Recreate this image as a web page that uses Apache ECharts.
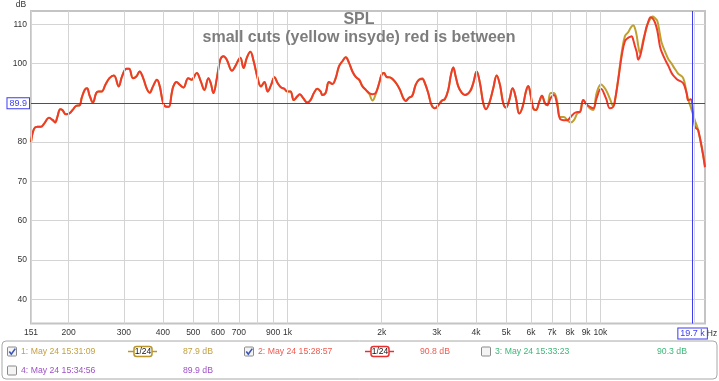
<!DOCTYPE html>
<html><head><meta charset="utf-8">
<script src="https://cdn.jsdelivr.net/npm/echarts@6/dist/echarts.min.js"></script>
<style>html,body{margin:0;padding:0;background:#fff}#c{width:719px;height:381px}</style>
</head><body><div id="c"></div>
<script>
// ---- data ----
const freqs = [
  151.6,155,159,163,167,173,178,181,184,188,191,196,201,206,211,217,220,225,229,
  233,239,245,249,255,262,270,279,289,296,306,312,321,329,337,346,355,363,372,383,
  391,401,411,418,427,432,442,453,465,482,494,513,528,543,559,569,580,595,610,625,
  640,665,681,707,724,742,761,780,803,823,844,865,887,909,931,955,978,998,1022,1048,
  1074,1095,1123,1157,1185,1215,1246,1276,1293,1324,1357,1392,1426,1461,1498,1535,1573,1613,1653,1694,
  1737,1780,1824,1870,1916,1963,2000,2034,2075,2126,2178,2234,2289,2345,2387,2445,2505,2568,2631,2696,
  2749,2817,2888,2959,3032,3108,3185,3264,3330,3387,3448,3514,3603,3692,3829,3923,4022,4122,4224,4307,
  4413,4545,4661,4774,4892,4989,5113,5241,5370,5502,5642,5780,5879,5984,6099,6222,6377,6503,6649,6761,
  6932,7102,7277,7423,7645,7832,8033,8230,8432,8600,8812,9034,9256,9483,9724,10036,10413,10725,10989,11129,
  11400,11689,11975,12271,12423,12581,12731,12890,13052,13209,13371,13541,13702,13976,14112,14467,14682,14931,15188,15491,
  15689,16190,16468,16883,17082,17512,17722,18385,18849,19076,19414,20039,20533,21573
];
const splRed = [
  80.0,83.4,83.9,83.9,84.7,86.2,85.6,85.0,86.4,88.4,88.2,87.1,87.3,88.2,89.2,89.4,91.2,93.3,93.7,
  92.0,90.1,92.5,92.9,92.9,94.6,96.3,97.0,94.2,96.7,98.7,98.7,96.3,96.7,98.0,96.3,93.7,92.6,94.2,95.9,
  94.2,89.9,89.0,89.0,92.5,94.2,95.3,94.6,93.9,96.3,95.9,97.6,95.6,93.3,96.3,95.0,92.5,96.3,101.0,101.9,
  101.0,98.2,99.3,101.5,98.9,101.5,103.0,100.6,96.3,94.2,95.3,92.9,94.6,96.5,95.0,93.9,93.6,92.9,92.9,90.7,
  91.6,92.2,91.2,90.1,90.7,92.5,93.6,92.9,92.0,92.5,95.3,94.8,96.3,99.3,100.6,101.6,100.2,98.0,96.6,95.9,
  94.2,93.3,92.5,92.2,92.6,95.0,97.2,97.6,96.6,96.5,95.9,94.8,93.3,91.2,90.5,91.3,91.8,94.6,95.9,96.1,
  95.0,92.5,89.4,88.6,89.4,90.5,91.0,93.3,97.2,99.0,96.7,94.2,92.6,92.0,92.9,95.0,98.0,95.0,89.9,88.4,
  89.9,93.7,97.0,94.6,89.9,88.8,90.7,93.7,91.2,87.3,89.0,92.9,94.3,92.0,88.6,88.2,90.3,91.8,89.9,89.4,
  91.2,92.0,89.4,86.0,85.6,85.6,86.4,87.3,87.7,87.7,90.7,89.6,89.0,88.6,91.2,93.6,91.2,88.6,89.0,90.7,
  95.9,101.9,105.7,106.6,106.8,107.0,106.0,104.4,103.0,101.0,101.8,103.6,105.5,108.8,109.8,111.8,111.5,110.5,108.5,104.4,
  103.0,100.6,99.5,97.6,97.0,96.1,95.8,95.0,92.5,90.7,90.9,83.9,83.0,73.6
];
const splYellow = [
  80.0,83.4,83.9,83.9,84.7,86.2,85.6,85.0,86.4,88.4,88.2,87.1,87.3,88.2,89.2,89.4,91.2,93.3,93.7,
  92.0,90.1,92.5,92.9,92.9,94.6,96.3,97.0,94.2,96.7,98.7,98.7,96.3,96.7,98.0,96.3,93.7,92.6,94.2,95.9,
  94.2,89.9,89.0,89.0,92.5,94.2,95.3,94.6,93.9,96.3,95.9,97.6,95.6,93.3,96.3,95.0,92.5,96.3,101.0,101.9,
  101.0,98.2,99.3,101.5,98.9,101.5,103.0,100.6,96.3,94.2,95.3,92.9,94.6,96.5,95.0,93.9,93.6,92.9,92.9,90.7,
  91.6,92.2,91.2,90.1,90.7,92.5,93.6,92.9,92.0,92.5,95.3,94.8,96.3,99.3,100.6,101.6,100.2,98.0,96.6,95.9,
  94.2,93.3,92.3,90.6,92.3,95.0,97.2,97.6,96.6,96.5,95.9,94.8,93.3,91.2,90.5,91.3,91.8,94.6,95.9,96.3,
  95.0,92.5,89.4,88.6,89.4,90.5,91.0,93.3,97.2,99.0,96.7,94.2,92.6,92.0,92.9,95.0,98.0,95.0,89.9,88.4,
  89.9,93.7,97.0,94.6,89.9,88.8,90.7,93.7,91.2,87.3,89.0,92.9,94.3,92.0,88.6,88.2,90.3,91.8,89.9,89.4,
  92.5,92.5,90.3,86.4,86.4,85.6,85.0,85.6,87.3,87.7,90.7,89.6,88.6,88.2,92.5,94.7,93.3,91.0,89.2,90.5,
  96.2,102.7,107.0,108.0,108.8,109.5,109.8,109.0,107.2,104.5,102.7,104.0,106.1,108.5,110.0,111.5,112.0,111.6,110.9,107.5,
  105.3,102.5,101.2,100.0,99.3,98.0,97.4,96.3,92.5,90.8,89.0,85.5,83.0,74.0
];
const xGridValues = [151.6,200,300,400,500,600,700,800,900,1000,2000,3000,4000,5000,6000,7000,8000,9000,10000,20000];
const xGridLabels = ['151','200','300','400','500','600','700','','900','1k','2k','3k','4k','5k','6k','7k','8k','9k','10k',''];
const yGridValues = [40,50,60,70,80,100,110];
const yLabelValues = [40,50,60,70,80,100,110];
const refLevel = 89.9;
const cursorFreq = 19700;
const cursorLabel = '19.7 k';
const titleText = 'SPL';
const subtitleText = 'small cuts (yellow insyde) red is between';
const legendNames = ['1: May 24 15:31:09','2: May 24 15:28:57','3: May 24 15:33:23','4: May 24 15:34:56'];
const legendLevels = ['87.9 dB','90.8 dB','90.3 dB','89.9 dB'];
const legendChecked = [true,true,false,false];
const legendSmoothing = ['1/24','1/24','',''];

// ---- styles ----
const FONT = '"Liberation Sans", Arial, sans-serif';
const BLUE = '#3c3cf0';
const legendColors = ['#c4a042','#f05a50','#3cb878','#a050c8'];
const iconColors = ['#b8962a','#e83030'];
const legendPos = [
  {cx:7.5, y:351.5, nameX:21, iconX:128, levelX:183},
  {cx:244.5, y:351.5, nameX:258, iconX:365, levelX:420},
  {cx:481.5, y:351.5, nameX:495, iconX:0, levelX:657},
  {cx:7.5, y:370.5, nameX:21, iconX:0, levelX:183}
];

const chart = echarts.init(document.getElementById('c'), null, {renderer:'canvas'});
const redPts = freqs.map((f,i)=>[f, splRed[i]]);
const yelPts = freqs.map((f,i)=>[f, splYellow[i]]);

const graphics = [
  {type:'text', style:{text:'dB', x:21, y:4.5, fill:'#333', font:'8.5px '+FONT, align:'center', verticalAlign:'middle'}},
  {type:'text', style:{text:'Hz', x:712, y:334, fill:'#333', font:'8.5px '+FONT, align:'center', verticalAlign:'middle'}},
  {type:'text', z:10, style:{text:titleText, x:359, y:19.6, fill:'#7d7d7d', font:'bold 16px '+FONT, align:'center', verticalAlign:'middle'}},
  {type:'text', z:10, style:{text:subtitleText, x:359, y:37.2, fill:'#7d7d7d', font:'bold 16px '+FONT, align:'center', verticalAlign:'middle'}},
  {type:'rect', shape:{x:2, y:341, width:715, height:38, r:4}, style:{fill:'#fff', stroke:'#a8a8a8', lineWidth:1}}
];
legendNames.forEach((name,i)=>{
  const p = legendPos[i];
  const by = p.y - 4.5;
  graphics.push({type:'rect', z:5, shape:{x:p.cx, y:by, width:9, height:9, r:1}, style:{fill:'#f4f4f4', stroke:'#8a8a8a', lineWidth:1}});
  if (legendChecked[i]) {
    graphics.push({type:'polyline', z:6, shape:{points:[[p.cx+1.8,by+4.6],[p.cx+3.8,by+7.2],[p.cx+7.8,by+1.6]]}, style:{stroke:'#3a54b8', lineWidth:1.6, fill:null}});
  }
  graphics.push({type:'text', z:5, style:{text:name, x:p.nameX, y:p.y, fill:legendColors[i], font:'8.7px '+FONT, align:'left', verticalAlign:'middle'}});
  if (legendSmoothing[i]) {
    const c = iconColors[i];
    graphics.push({type:'line', z:5, shape:{x1:p.iconX, y1:p.y, x2:p.iconX+29, y2:p.y}, style:{stroke:c, lineWidth:1.5}});
    graphics.push({type:'rect', z:6, shape:{x:p.iconX+6, y:p.y-5, width:18, height:10, r:2.5}, style:{fill:'#fff', stroke:c, lineWidth:1.5}});
    graphics.push({type:'text', z:7, style:{text:legendSmoothing[i], x:p.iconX+15, y:p.y, fill:'#111', font:'8.5px '+FONT, align:'center', verticalAlign:'middle'}});
  }
  graphics.push({type:'text', z:5, style:{text:legendLevels[i], x:p.levelX, y:p.y, fill:legendColors[i], font:'8.7px '+FONT, align:'left', verticalAlign:'middle'}});
});

const blueLabel = {show:true, color:BLUE, fontSize:9, fontFamily:FONT,
  backgroundColor:'#fff', borderColor:BLUE, borderWidth:1, padding:[1,2,0,2]};

const option = {
  animation:false,
  backgroundColor:'#fff',
  grid:{left:31, right:14, top:11, bottom:57.5, show:true, borderColor:'#c4c4c4', borderWidth:2, backgroundColor:'#fff'},
  xAxis:{type:'log', logBase:10, min:151.6, max:21580,
    axisLine:{show:false}, axisTick:{show:false}, axisLabel:{show:false},
    splitLine:{show:false}, minorTick:{show:false}, minorSplitLine:{show:false}},
  yAxis:{type:'value', min:33.8, max:113.4,
    axisLine:{show:false},
    axisTick:{show:false, customValues:yGridValues},
    axisLabel:{customValues:yLabelValues, fontSize:8.5, color:'#333', margin:4, fontFamily:FONT},
    splitLine:{show:true, lineStyle:{color:'#d4d4d4', width:1}}},
  series:[
    {type:'line', data:[[1000,60]], symbol:'none', lineStyle:{opacity:0}, silent:true, z:1,
     markLine:{silent:true, symbol:['none','none'], animation:false,
       lineStyle:{color:'#d4d4d4', width:1, type:'solid'},
       label:{position:'start', distance:5, fontSize:8.5, color:'#333', fontFamily:FONT},
       emphasis:{disabled:true},
       data:xGridValues.map((v,i)=>({xAxis:v, label:{show:xGridLabels[i] !== '', formatter:xGridLabels[i] || ' '}}))}},
    {name:'yellow', type:'line', data:yelPts, symbol:'none', smooth:0.4, silent:true,
     lineStyle:{color:'#bfa02e', width:2}, z:3},
    {name:'red', type:'line', data:redPts, symbol:'none', smooth:0.4, silent:true,
     lineStyle:{color:'#f03a2a', width:2}, z:4},
    {name:'ref', type:'line', data:[[1000,60]], symbol:'none', lineStyle:{opacity:0}, silent:true, z:6,
     itemStyle:{color:BLUE},
     markLine:{silent:true, symbol:['none','none'], animation:false, emphasis:{disabled:true},
       lineStyle:{color:BLUE, width:1, type:'solid', opacity:1},
       data:[
         {yAxis:refLevel, label:Object.assign({position:'start', distance:2, formatter:'89.9'}, blueLabel)},
         {xAxis:cursorFreq, label:Object.assign({position:'start', distance:5, formatter:cursorLabel}, blueLabel)}
       ]}}
  ],
  graphic:graphics
};
chart.setOption(option);
</script></body></html>
